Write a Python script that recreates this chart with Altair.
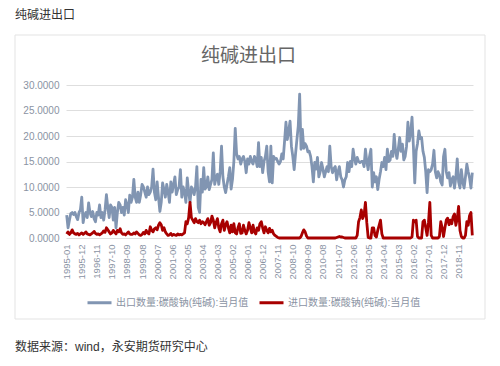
import altair as alt
import pandas as pd

# ---- data (万吨, monthly, 1995-01 .. 2019-09) ----
export_by_year = [
    [4.5, 2.0, 3.5, 4.8, 5.0, 4.6, 5.0, 4.2, 3.6, 5.0, 5.5, 8.0],          # 1995
    [3.0, 4.5, 5.0, 4.0, 6.9, 5.0, 4.2, 5.2, 3.8, 3.2, 5.0, 4.5],          # 1996
    [6.5, 4.0, 5.0, 3.5, 5.5, 8.5, 6.0, 4.0, 6.5, 6.0, 3.5, 6.0],          # 1997
    [2.0, 5.0, 7.0, 6.5, 5.0, 6.0, 4.5, 7.5, 6.5, 5.0, 8.4, 7.0],          # 1998
    [8.0, 11.5, 8.0, 7.0, 9.0, 7.0, 8.5, 10.5, 10.0, 9.0, 8.0, 10.0],      # 1999
    [8.5, 9.0, 10.0, 13.5, 9.0, 7.5, 11.0, 8.0, 5.2, 7.0, 10.8, 9.5],      # 2000
    [8.0, 10.5, 9.0, 7.0, 11.0, 9.0, 10.5, 12.0, 8.5, 9.5, 10.0, 13.4],    # 2001
    [8.0, 10.0, 9.0, 7.0, 11.8, 9.0, 7.0, 10.0, 9.5, 8.5, 10.0, 14.0],     # 2002
    [6.0, 5.0, 11.5, 9.0, 13.8, 9.6, 10.0, 12.0, 9.5, 10.5, 11.5, 16.7],   # 2003
    [10.5, 11.8, 12.5, 10.5, 13.0, 18.0, 12.0, 10.0, 8.9, 10.5, 12.0, 13.8],  # 2004
    [9.6, 11.5, 15.0, 21.5, 16.5, 15.5, 16.0, 14.5, 15.5, 16.0, 15.0, 12.8],  # 2005
    [15.5, 14.5, 16.0, 15.0, 14.5, 16.0, 15.5, 14.0, 18.7, 14.0, 15.8, 12.8], # 2006
    [15.0, 16.0, 18.0, 13.0, 11.0, 18.0, 10.8, 16.0, 15.5, 15.6, 15.0, 14.5], # 2007
    [15.0, 16.5, 15.5, 19.0, 22.7, 19.3, 21.0, 22.9, 18.0, 16.0, 13.4, 16.5], # 2008
    [19.3, 22.0, 28.2, 17.4, 21.3, 17.6, 18.5, 18.0, 16.9, 17.0, 16.0, 14.0], # 2009
    [11.0, 14.8, 13.5, 15.8, 12.0, 13.0, 14.8, 13.5, 12.0, 13.0, 14.0, 13.0], # 2010
    [18.0, 14.0, 12.8, 13.6, 14.0, 11.4, 13.0, 14.0, 12.0, 11.4, 10.0, 11.4], # 2011
    [12.0, 14.8, 13.0, 15.0, 14.0, 17.4, 15.6, 14.5, 15.8, 15.0, 14.8, 15.0], # 2012
    [15.0, 14.0, 17.4, 15.0, 13.4, 16.0, 17.4, 10.0, 12.8, 11.0, 12.0, 9.5],  # 2013
    [11.5, 13.0, 14.8, 14.0, 15.8, 13.4, 17.4, 15.0, 15.3, 17.0, 16.0, 20.3], # 2014
    [17.0, 15.6, 17.5, 19.7, 17.0, 18.4, 15.3, 16.0, 18.0, 22.7, 19.0, 20.5], # 2015
    [23.7, 18.0, 10.8, 17.0, 18.5, 21.0, 19.5, 19.7, 17.0, 15.8, 13.0, 8.9],  # 2016
    [13.4, 13.0, 13.4, 14.5, 17.2, 13.0, 11.8, 13.0, 12.4, 11.0, 10.4, 16.0], # 2017
    [17.4, 13.0, 11.8, 12.8, 10.2, 11.5, 12.0, 9.8, 12.0, 15.5, 11.0, 9.8],   # 2018
    [13.4, 11.0, 9.8, 12.0, 14.5, 13.0, 11.8, 9.8, 12.8],                     # 2019
]

import_by_year = [
    [0.8, 1.2, 0.7, 1.0, 1.6, 1.0, 0.8, 0.7, 0.9, 0.6, 0.8, 1.0],   # 1995
    [0.7, 0.9, 1.2, 0.8, 0.7, 0.6, 0.8, 1.0, 1.3, 0.9, 0.7, 0.8],   # 1996
    [0.6, 0.8, 1.0, 1.4, 1.1, 2.0, 1.6, 1.2, 0.8, 1.0, 1.5, 1.1],   # 1997
    [0.8, 1.5, 1.2, 1.8, 1.0, 0.7, 0.8, 0.6, 0.9, 1.2, 0.8, 0.7],   # 1998
    [0.7, 1.0, 0.8, 1.2, 0.9, 0.6, 0.5, 0.7, 1.1, 0.8, 1.5, 1.0],   # 1999
    [0.8, 2.2, 1.5, 1.2, 1.8, 2.0, 1.6, 2.5, 3.0, 2.6, 1.5, 2.0],   # 2000
    [1.2, 0.8, 0.5, 0.6, 0.9, 0.5, 0.7, 0.6, 0.5, 0.8, 0.6, 0.7],   # 2001
    [0.6, 0.8, 1.0, 3.2, 2.8, 4.0, 7.0, 4.0, 3.5, 3.0, 3.8, 3.2],   # 2002
    [3.0, 3.5, 2.8, 3.2, 3.0, 2.6, 3.2, 3.8, 2.5, 3.0, 4.3, 3.5],   # 2003
    [2.0, 3.0, 3.8, 2.0, 1.2, 2.8, 3.5, 1.5, 2.6, 3.2, 2.0, 1.0],   # 2004
    [2.5, 1.2, 2.8, 1.0, 0.8, 2.0, 2.8, 0.9, 1.0, 2.5, 1.5, 0.8],   # 2005
    [1.5, 3.0, 2.0, 1.0, 2.5, 1.2, 0.8, 2.0, 1.5, 2.8, 3.2, 2.0],   # 2006
    [1.0, 2.2, 1.5, 1.0, 1.9, 1.2, 1.5, 0.8, 0.5, 0.3, 0.1, 0.0],   # 2007
    [0.0, 0.0, 0.0, 0.0, 0.0, 0.0, 0.0, 0.0, 0.0, 0.0, 0.0, 0.0],   # 2008
    [0.0, 0.0, 0.0, 0.3, 1.0, 1.6, 1.2, 0.4, 0.0, 0.0, 0.0, 0.0],   # 2009
    [0.0, 0.0, 0.0, 0.0, 0.0, 0.0, 0.0, 0.0, 0.0, 0.0, 0.0, 0.0],   # 2010
    [0.0, 0.0, 0.0, 0.0, 0.0, 0.1, 0.2, 0.3, 0.2, 0.2, 0.1, 0.0],   # 2011
    [0.0, 0.0, 0.0, 0.0, 0.0, 0.0, 0.0, 0.0, 0.5, 3.2, 4.0, 5.5],   # 2012
    [3.8, 4.5, 7.0, 3.0, 0.1, 0.0, 0.0, 2.0, 2.0, 0.5, 0.2, 1.5],   # 2013
    [2.5, 3.5, 0.8, 0.0, 0.0, 0.0, 0.0, 0.0, 0.0, 0.0, 0.0, 0.0],   # 2014
    [0.0, 0.0, 0.0, 0.0, 0.0, 0.0, 0.0, 0.0, 0.0, 0.0, 0.0, 0.0],   # 2015
    [0.2, 3.5, 3.2, 3.5, 0.3, 0.0, 0.0, 0.0, 3.2, 3.5, 2.0, 0.5],   # 2016
    [3.0, 7.0, 0.5, 0.0, 0.0, 0.0, 0.0, 0.0, 0.3, 3.2, 2.0, 0.3],   # 2017
    [2.0, 3.5, 3.9, 2.6, 3.5, 2.8, 4.2, 4.7, 2.5, 3.8, 6.2, 1.5],   # 2018
    [0.3, 0.0, 0.0, 0.5, 3.2, 2.5, 4.4, 5.0, 0.5],                  # 2019
]

S_EXP = "出口数量:碳酸钠(纯碱):当月值"
S_IMP = "进口数量:碳酸钠(纯碱):当月值"
Y_TICKS = [0, 5, 10, 15, 20, 25, 30]
TITLE = "纯碱进出口"
SOURCE = "数据来源：wind，永安期货研究中心"

export_vals = [v for yr in export_by_year for v in yr]
import_vals = [v for yr in import_by_year for v in yr]
n = min(len(export_vals), len(import_vals))
export_vals, import_vals = export_vals[:n], import_vals[:n]
months = [f"{1995 + i // 12}-{i % 12 + 1:02d}" for i in range(n)]
label_months = months[:287:11]

df = pd.DataFrame({
    "month": months + months,
    "value": export_vals + import_vals,
    "series": [S_EXP] * n + [S_IMP] * n,
})

FONT = "Liberation Sans, Noto Sans CJK SC, sans-serif"
AXIS_GRAY = "#8a93a3"

lines = alt.Chart(df).mark_line(strokeWidth=2.8, strokeJoin="round").encode(
    x=alt.X("month:O", sort=None,
            scale=alt.Scale(type="point", padding=0.5),
            axis=alt.Axis(values=label_months, labelAngle=270, ticks=False, domain=False,
                          grid=False, labelFontSize=9.5, labelColor=AXIS_GRAY,
                          labelPadding=6, labelOverlap=False, title=None)),
    y=alt.Y("value:Q", scale=alt.Scale(domain=[0, 30], nice=False),
            axis=alt.Axis(values=Y_TICKS, format=".4f", ticks=False, domain=False,
                          grid=True, gridColor="#dedede", labelFontSize=10,
                          labelColor=AXIS_GRAY, labelPadding=7, title=None)),
    color=alt.Color("series:N",
                    scale=alt.Scale(domain=[S_EXP, S_IMP], range=["#8195b2", "#a80000"]),
                    legend=alt.Legend(orient="none", legendX=20, legendY=204,
                                      direction="horizontal", title=None,
                                      symbolType="stroke", symbolSize=576,
                                      symbolStrokeWidth=3, labelFontSize=10,
                                      labelColor=AXIS_GRAY, columnPadding=4,
                                      labelOffset=3)),
)


def text_layer(txt, x, y, size, color, align="left"):
    return alt.Chart(pd.DataFrame({"t": [txt]})).mark_text(
        align=align, baseline="middle", fontSize=size, color=color
    ).encode(x=alt.value(x), y=alt.value(y), text="t:N")


box = alt.Chart(pd.DataFrame({"a": [0]})).mark_rect(
    fill="transparent", stroke="#e3e3e3", strokeWidth=1
).encode(x=alt.value(-51), x2=alt.value(419), y=alt.value(-50), y2=alt.value(234))

chart = alt.layer(
    box,
    lines,
    text_layer(TITLE, -51, -70, 12, "#333333"),
    text_layer(TITLE, 182.5, -29, 19, "#666666", align="center"),
    text_layer(SOURCE, -51, 262, 12, "#333333"),
).properties(
    width=407, height=153,
    autosize=alt.AutoSizeParams(type="none"),
    padding={"left": 58, "top": 77, "right": 19, "bottom": 120},
    background="white",
).configure(font=FONT).configure_view(stroke=None)

chart.save("out.html", embed_options={"renderer": "svg", "actions": False})
